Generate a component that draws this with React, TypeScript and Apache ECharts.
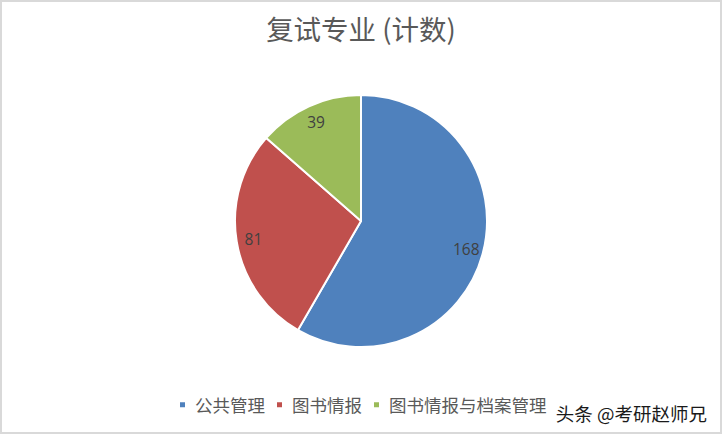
import React, { useEffect, useRef } from "react";
import * as echarts from "echarts";

const categories = ["公共管理", "图书情报", "图书情报与档案管理"];
const values = [168, 81, 39];
const colors = ["#4F81BD", "#C0504D", "#9BBB59"];
const titleText = "复试专业 (计数)";
const watermark = "头条 @考研赵师兄";

export default function App() {
  const ref = useRef<HTMLDivElement>(null);
  useEffect(() => {
    if (!ref.current) return;
    const chart = echarts.init(ref.current, undefined, { renderer: "svg" });
    const data = categories.map((name, i) => ({
      name,
      value: values[i],
      itemStyle: { color: colors[i] },
    }));
    const font = '"Noto Sans CJK SC", "Noto Sans", sans-serif';
    chart.setOption({
      animation: false,
      backgroundColor: "#ffffff",
      title: {
        text: titleText,
        left: "center",
        top: 7,
        textStyle: { fontFamily: font, fontSize: 27.5, fontWeight: "normal", color: "#595959" },
      },
      legend: {
        left: 171,
        top: 389,
        icon: "rect",
        itemWidth: 7,
        itemHeight: 7,
        itemGap: 10,
        data: categories,
        textStyle: { fontFamily: font, fontSize: 17.5, color: "#595959", padding: [0, 0, 0, 4] },
      },
      graphic: [
        {
          type: "text",
          right: 12,
          top: 401,
          style: {
            text: watermark,
            fontFamily: font,
            fontSize: 18.5,
            fill: "#1a1a1a",
            stroke: "#ffffff",
            lineWidth: 2,
          },
        },
      ],
      series: [
        {
          type: "pie",
          center: [359, 219],
          radius: [0, 126],
          startAngle: 90,
          clockwise: true,
          silent: true,
          label: { show: false },
          labelLine: { show: false },
          itemStyle: { borderColor: "#ffffff", borderWidth: 2 },
          data,
        },
        {
          type: "pie",
          center: [359, 219],
          radius: [86, 126],
          startAngle: 90,
          clockwise: true,
          silent: true,
          itemStyle: { color: "transparent", borderWidth: 0 },
          label: {
            show: true,
            position: "inside",
            formatter: "{c}",
            fontFamily: '"Open Sans", "Noto Sans", sans-serif',
            fontSize: 15.5,
            color: "#404040",
          },
          labelLine: { show: false },
          data: categories.map((name, i) => ({ name, value: values[i], itemStyle: { color: "transparent" } })),
        },
      ],
    });
    return () => chart.dispose();
  }, []);
  return (
    <div
      ref={ref}
      style={{
        position: "fixed",
        left: 0,
        top: 0,
        width: 722,
        height: 434,
        boxSizing: "border-box",
        border: "2px solid #d9d9d9",
        background: "#fff",
      }}
    />
  );
}
